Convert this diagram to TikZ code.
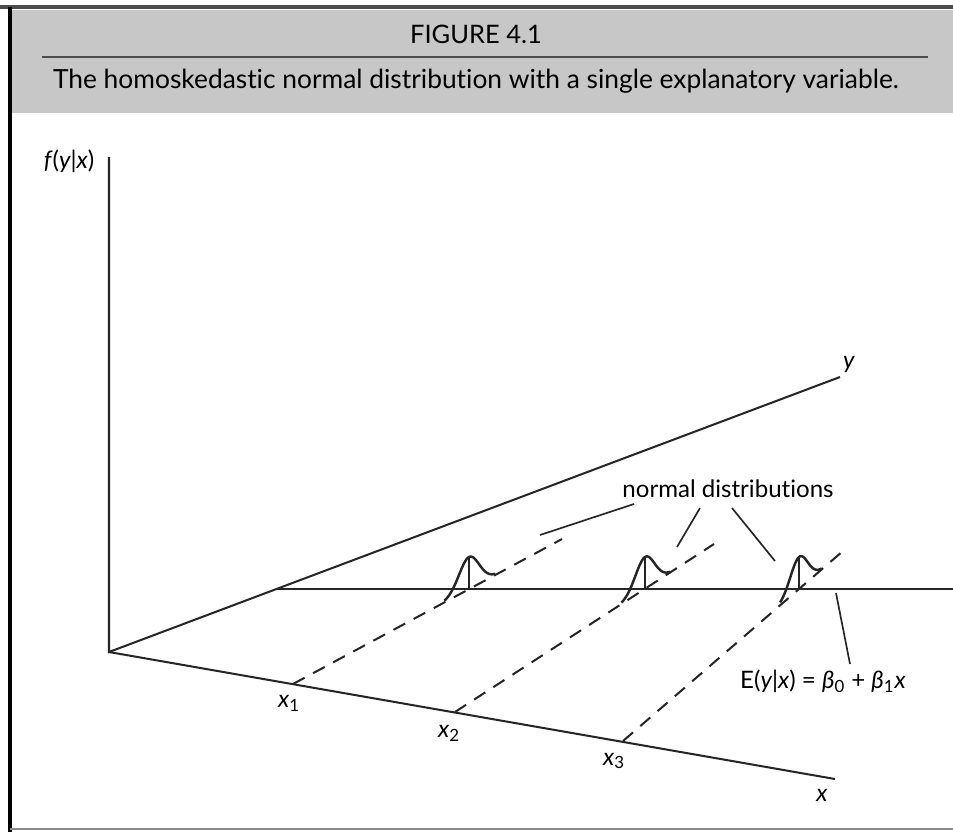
\documentclass[tikz,border=0pt]{standalone}
\usepackage{fontspec}
\setmainfont[Ligatures=NoCommon]{Lato}
\usetikzlibrary{calc}
\begin{document}
\begin{tikzpicture}[x=0.02cm,y=-0.02cm,
  axis/.style={line width=1.15pt, black!85},
  dashline/.style={line width=1.15pt, black!85, dash pattern=on 7.5pt off 5.5pt},
  lead/.style={line width=0.95pt, black!85},
  bell/.style={line width=1.4pt, black!85, line join=round},
  lbl/.style={font=\fontsize{13.7}{16}\selectfont, inner sep=0pt},
  ttl/.style={font=\fontsize{15}{18}\selectfont, inner sep=0pt},
]
\useasboundingbox (0,0) rectangle (953,832);
\fill[white] (0,0) rectangle (953,832);
% header band and frame
\fill[black!22] (10,10) rectangle (953,113);
\draw[line width=2.8pt, black!70] (0,7) -- (953,7);
\draw[line width=2.6pt] (10,7) -- (10,832);
\draw[line width=1pt, black!45] (10,829) -- (953,829);
\draw[line width=0.8pt, black!70] (42,57) -- (928,57);
\node[ttl, font=\fontsize{14.5}{17}\selectfont] (fig) at (476,34) {FIGURE 4.1};
\node[ttl] (sub) at (476,81) {The homoskedastic normal distribution with a single explanatory variable.};
% axes
\coordinate (O) at (109,652);
\coordinate (Vtop) at (109,157);
\coordinate (Yend) at (840,377);
\coordinate (Xend) at (835,779);
\draw[axis] (Vtop) -- (O) -- (Yend);
\draw[axis] (O) -- (Xend);
\node[lbl] (fl) at (69,161) {\itshape f\/\upshape(\itshape y\upshape|\itshape x\upshape)};
\node[lbl] (yl) at (849,364) {\itshape y};
\node[lbl] (xl) at (822,795) {\itshape x};
% regression line
\coordinate (Hs) at (277,589);
\coordinate (He) at (953,589);
\draw[axis] (Hs) -- (He);
% x positions and dashed lines
\coordinate (x1) at (293,684);
\coordinate (x2) at (455,712);
\coordinate (x3) at (623,741);
\coordinate (d1) at (562,539);
\coordinate (d2) at (714,544);
\coordinate (d3) at (843,551);
\draw[dashline] (x1) -- (d1);
\draw[dashline] (x2) -- (d2);
\draw[dashline] (x3) -- (d3);
\node[lbl] (x1l) at (289,703) {\itshape x\upshape\textsubscript{1}};
\node[lbl] (x2l) at (449,733) {\itshape x\upshape\textsubscript{2}};
\node[lbl] (x3l) at (614,761) {\itshape x\upshape\textsubscript{3}};
% bells
\draw[bell] plot[domain=-28:30, samples=60, smooth] ({469+\x/1.136}, {589-0.539*\x/1.136-32*exp(-(\x*\x)/260)});
\draw[bell] (469,557) -- (469,589);
\draw[bell] plot[domain=-28:30, samples=60, smooth] ({645+\x/1.19}, {589-0.646*\x/1.19-32*exp(-(\x*\x)/260)});
\draw[bell] (645,557) -- (645,589);
\draw[bell] plot[domain=-25:30, samples=60, smooth] ({799+\x/1.32}, {589-0.864*\x/1.32-32*exp(-(\x*\x)/260)});
\draw[bell] (799,557) -- (799,589);
% normal distributions label
\node[lbl] (nd) at (728,489) {normal distributions};
\coordinate (l1a) at (634,504);
\coordinate (l1b) at (540,535);
\coordinate (l2a) at (700,508);
\coordinate (l2b) at (677,547);
\coordinate (l3a) at (732,508);
\coordinate (l3b) at (775,561);
\draw[lead] (l1a) -- (l1b);
\draw[lead] (l2a) -- (l2b);
\draw[lead] (l3a) -- (l3b);
% E label
\node[lbl] (el) at (823,681) {E(\itshape y\upshape|\itshape x\upshape) = \itshape β\upshape\textsubscript{0} + \itshape β\upshape\textsubscript{1}\itshape x};
\coordinate (ea) at (836,593);
\coordinate (eb) at (850,664);
\draw[lead] (ea) -- (eb);
\end{tikzpicture}
\end{document}
